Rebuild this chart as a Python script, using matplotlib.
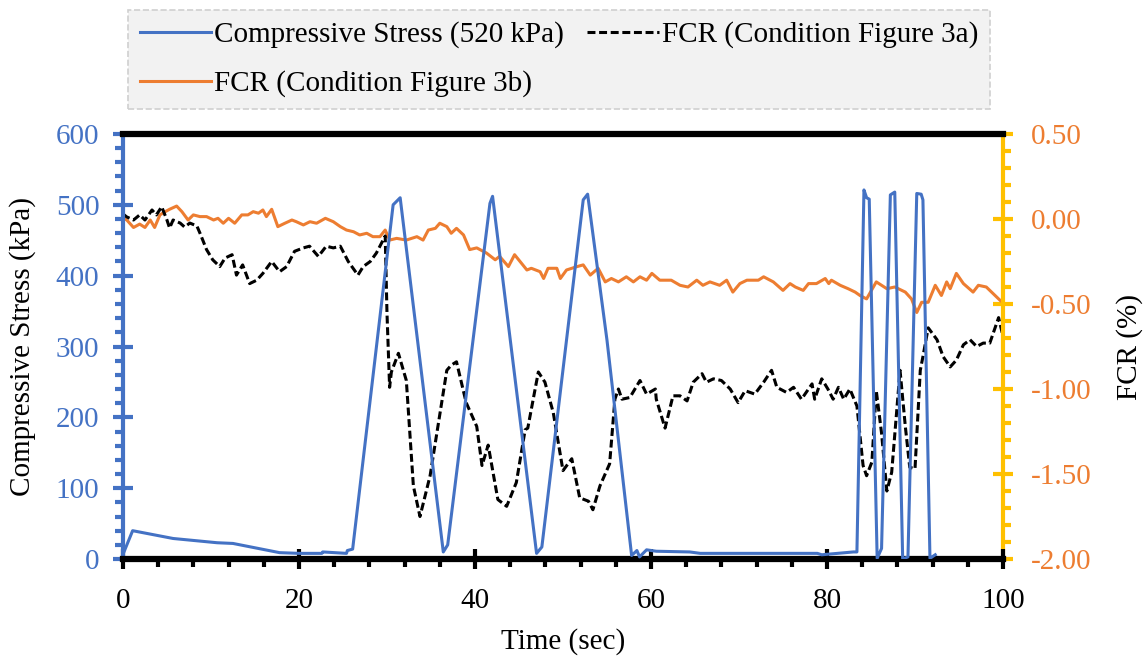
import matplotlib.pyplot as plt
from matplotlib.ticker import MultipleLocator, FormatStrFormatter

plt.rcParams['font.family'] = ['Liberation Serif', 'DejaVu Serif']
plt.rcParams['axes.unicode_minus'] = False

BLUE = '#4472C4'
ORANGE = '#ED7D31'
GOLD = '#FFC000'

# compressive stress (kPa), left axis
stress_t = [0, 0.05, 1.1, 5.7, 10.7, 12.5, 17.8, 20.0, 22.6, 22.7, 25.4, 25.5, 26.1,
            30.7, 31.5, 36.4, 36.9, 41.7, 42.0, 47.0, 47.6, 52.3, 52.8, 55.0, 57.8,
            58.4, 58.7, 59.5, 60.6, 64.4, 65.6, 78.9, 79.4, 83.0, 83.4,
            84.2, 84.5, 84.8, 85.7, 86.2, 87.2, 87.7, 88.6, 89.2, 90.2, 90.7, 90.9,
            91.7, 92.3]
stress_kpa = [46, 8, 40, 29, 23, 22, 9, 8, 8, 10, 8, 12, 14,
              500, 510, 10, 20, 502, 512, 8, 17, 507, 515, 309, 5,
              12, 3, 13, 11, 10, 8, 8, 6, 10, 10,
              521, 510, 508, 1, 15, 514, 518, 0, 3, 516, 515, 507,
              1, 6]

# FCR condition figure 3a (%), right axis
fcr_a_t = [0, 0.4, 1.2, 1.9, 2.5, 3.3, 3.8, 4.4, 5.0, 5.3, 5.7, 6.5, 7.0, 7.6, 8.4, 8.75,
           9.5, 10.2, 11.0, 11.6, 12.4, 12.9, 13.6, 14.4, 15.2, 15.9, 16.9, 17.8, 18.6,
           19.5, 20.5, 21.2, 22.2, 23.1, 23.9, 24.7, 25.6, 26.7, 27.3, 28.1, 28.8, 29.6,
           29.8, 30.0, 30.3, 30.5, 31.3, 32.2, 33.0, 33.75, 34.9, 36.8, 37.3, 37.9, 39.0,
           40.2, 40.8, 41.5, 42.6, 43.6, 44.7, 45.7, 46.0, 47.2, 47.95, 48.9, 50.0, 51.0,
           51.9, 52.9, 53.4, 54.2, 55.3, 55.9, 56.3, 56.7, 57.6, 58.75, 59.5, 60.5, 60.6,
           61.6, 62.5, 63.3, 64.1, 64.8, 65.8, 66.3, 67.1, 68.0, 69.0, 69.9, 70.7, 71.8,
           72.8, 73.7, 74.3, 75.4, 76.2, 77.1, 78.3, 78.6, 79.4, 80.1, 80.7, 81.3, 81.9,
           82.6, 83.4, 84.1, 84.5, 85.1, 85.6, 86.2, 86.8, 87.35, 88.3, 88.9, 89.4, 90.0,
           90.6, 90.9, 91.5, 92.5, 93.2, 94.0, 94.7, 95.5, 96.25, 97.0, 97.75, 98.5, 98.9,
           99.5, 100.0]
fcr_a = [0.03, 0.013, -0.006, 0.024, -0.006, 0.053, 0.024, 0.072, -0.006, -0.053, -0.006,
         -0.024, -0.047, -0.024, -0.041, -0.083, -0.18, -0.24, -0.28, -0.23, -0.21, -0.33,
         -0.27, -0.38, -0.36, -0.32, -0.25, -0.31, -0.28, -0.19, -0.17, -0.16, -0.22, -0.16,
         -0.17, -0.16, -0.25, -0.33, -0.28, -0.25, -0.20, -0.12, -0.10, -0.55, -0.99, -0.90,
         -0.79, -0.95, -1.57, -1.75, -1.51, -0.89, -0.86, -0.84, -1.08, -1.22, -1.45, -1.33,
         -1.65, -1.69, -1.55, -1.24, -1.23, -0.90, -0.96, -1.14, -1.48, -1.41, -1.64, -1.66,
         -1.71, -1.57, -1.44, -1.06, -1.00, -1.06, -1.05, -0.95, -1.03, -1.00, -1.06, -1.23,
         -1.04, -1.04, -1.07, -0.96, -0.91, -0.96, -0.94, -0.95, -1.00, -1.08, -1.01, -1.03,
         -0.96, -0.89, -0.99, -1.02, -0.99, -1.06, -0.97, -1.06, -0.94, -1.00, -1.06, -0.99,
         -1.06, -1.00, -1.10, -1.45, -1.51, -1.43, -1.01, -1.26, -1.60, -1.49, -0.89, -1.22,
         -1.46, -1.47, -0.89, -0.81, -0.64, -0.71, -0.81, -0.87, -0.83, -0.74, -0.71, -0.75,
         -0.73, -0.73, -0.67, -0.58, -0.69]

# FCR condition figure 3b (%), right axis
fcr_b_t = [0, 0.4, 1.2, 1.9, 2.5, 3.1, 3.6, 4.2, 4.8, 5.3, 6.1, 6.7, 7.4, 8.0, 8.75, 9.5,
           10.3, 10.8, 11.4, 12.0, 12.7, 13.5, 14.2, 14.8, 15.4, 15.9, 16.3, 16.9, 17.6,
           18.4, 19.2, 19.7, 20.5, 21.25, 22.0, 23.0, 23.9, 24.7, 25.4, 26.2, 26.9, 27.7,
           28.4, 29.2, 29.8, 30.3, 31.1, 32.2, 33.4, 34.1, 34.7, 35.5, 36.0, 36.8, 37.3,
           37.9, 38.7, 39.4, 40.2, 41.3, 42.3, 42.8, 43.8, 44.5, 45.9, 46.4, 47.4, 47.8,
           48.3, 49.3, 49.7, 50.4, 51.6, 52.3, 53.1, 54.0, 54.8, 55.5, 56.3, 57.2, 58.0,
           58.75, 59.5, 60.1, 61.0, 62.3, 63.3, 64.2, 65.2, 65.9, 66.7, 67.8, 68.6, 69.3,
           70.1, 70.9, 72.2, 72.8, 73.9, 75.0, 75.8, 76.4, 77.3, 77.9, 78.8, 79.8, 80.2,
           80.5, 81.5, 82.4, 83.2, 83.75, 84.5, 85.6, 86.8, 87.7, 88.9, 89.6, 90.2, 90.75,
           91.5, 92.3, 93.0, 93.6, 94.0, 94.7, 95.5, 96.6, 97.2, 98.1, 98.9, 99.7, 100.0]
fcr_b = [0.0, -0.004, -0.05, -0.03, -0.05, -0.006, -0.05, 0.024, 0.043, 0.057, 0.076, 0.043,
         -0.006, 0.024, 0.014, 0.014, -0.006, 0.004, -0.025, 0.004, -0.025, 0.024, 0.024,
         0.043, 0.034, 0.053, 0.014, 0.057, -0.045, -0.025, -0.006, -0.016, -0.035, -0.016,
         -0.025, 0.004, -0.016, -0.045, -0.065, -0.075, -0.094, -0.084, -0.104, -0.104,
         -0.065, -0.124, -0.114, -0.124, -0.104, -0.124, -0.065, -0.055, -0.025, -0.045,
         -0.084, -0.055, -0.094, -0.18, -0.17, -0.20, -0.24, -0.22, -0.28, -0.21, -0.30,
         -0.29, -0.31, -0.35, -0.29, -0.29, -0.35, -0.30, -0.28, -0.27, -0.33, -0.29, -0.37,
         -0.35, -0.37, -0.34, -0.37, -0.34, -0.36, -0.32, -0.36, -0.36, -0.39, -0.40, -0.36,
         -0.39, -0.37, -0.39, -0.36, -0.43, -0.38, -0.36, -0.36, -0.34, -0.37, -0.42, -0.38,
         -0.40, -0.42, -0.38, -0.38, -0.35, -0.38, -0.36, -0.39, -0.41, -0.43, -0.45, -0.47,
         -0.37, -0.41, -0.40, -0.43, -0.47, -0.55, -0.49, -0.49, -0.39, -0.45, -0.37, -0.41,
         -0.32, -0.38, -0.43, -0.39, -0.40, -0.44, -0.48, -0.49]

labels = ['Compressive Stress (520 kPa)', 'FCR (Condition Figure 3a)',
          'FCR (Condition Figure 3b)']

FS = 21
LW = 2.2

fig = plt.figure(figsize=(11.48, 6.59), dpi=100)
ax = fig.add_axes([0.1071, 0.1517, 0.7666, 0.645])
ax2 = ax.twinx()

l_stress, = ax.plot(stress_t, stress_kpa, color=BLUE, linewidth=LW, zorder=3)
l_b, = ax2.plot(fcr_b_t, fcr_b, color=ORANGE, linewidth=LW)
l_a, = ax2.plot(fcr_a_t, fcr_a, color='black', linewidth=LW, linestyle=(0, (2.6, 1.2)))

ax.set_zorder(ax2.get_zorder() + 1)
ax.patch.set_visible(False)

ax.set_xlim(0, 100)
ax.set_ylim(0, 600)
ax2.set_ylim(-2.0, 0.5)

ax.xaxis.set_major_locator(MultipleLocator(20))
ax.xaxis.set_minor_locator(MultipleLocator(4))
ax.yaxis.set_major_locator(MultipleLocator(100))
ax.yaxis.set_minor_locator(MultipleLocator(20))
ax2.yaxis.set_major_locator(MultipleLocator(0.5))
ax2.yaxis.set_minor_locator(MultipleLocator(0.1))
ax2.yaxis.set_major_formatter(FormatStrFormatter('%.2f'))

# spines
for a in (ax, ax2):
    for s in a.spines.values():
        s.set_visible(False)
ax.spines['left'].set_visible(True)
ax.spines['left'].set_color(BLUE)
ax.spines['left'].set_linewidth(3)
ax.spines['bottom'].set_visible(True)
ax.spines['bottom'].set_color('black')
ax.spines['bottom'].set_linewidth(4.5)
ax.spines['top'].set_visible(True)
ax.spines['top'].set_color('black')
ax.spines['top'].set_linewidth(4.5)
ax2.spines['right'].set_visible(True)
ax2.spines['right'].set_color(GOLD)
ax2.spines['right'].set_linewidth(3)

# ticks
ax.tick_params(axis='x', which='major', direction='inout', length=14, width=3,
               color='black', labelsize=FS, pad=14, top=False)
ax.tick_params(axis='x', which='minor', direction='out', length=6, width=3,
               color='black', top=False)
ax.tick_params(axis='y', which='major', direction='inout', length=14, width=3,
               color=BLUE, labelcolor=BLUE, labelsize=FS, pad=10)
ax.tick_params(axis='y', which='minor', direction='out', length=6, width=3, color=BLUE)
ax2.tick_params(axis='y', which='major', direction='inout', length=14, width=3,
                color=GOLD, labelcolor=ORANGE, labelsize=FS, pad=13)
ax2.tick_params(axis='y', which='minor', direction='out', length=6, width=3, color=GOLD)

ax.set_xlabel('Time (sec)', fontsize=FS, labelpad=10)
ax.set_ylabel('Compressive Stress (kPa)', fontsize=FS, labelpad=14)
ax2.set_ylabel('FCR (%)', fontsize=FS, labelpad=18)

leg = fig.legend([l_stress, l_b, l_a], [labels[0], labels[2], labels[1]],
                 ncol=2, loc='upper left', bbox_to_anchor=(0.1115, 0.985),
                 fontsize=FS, frameon=True, fancybox=False, handlelength=2.45,
                 handletextpad=0.1, columnspacing=0.8, labelspacing=0.75,
                 borderpad=0.4, borderaxespad=0)
frame = leg.get_frame()
frame.set_facecolor('#F2F2F2')
frame.set_edgecolor('#D0D0D0')
frame.set_linestyle('--')
frame.set_linewidth(1.2)
frame.set_alpha(1)

fig.savefig('out.png', dpi=100)
